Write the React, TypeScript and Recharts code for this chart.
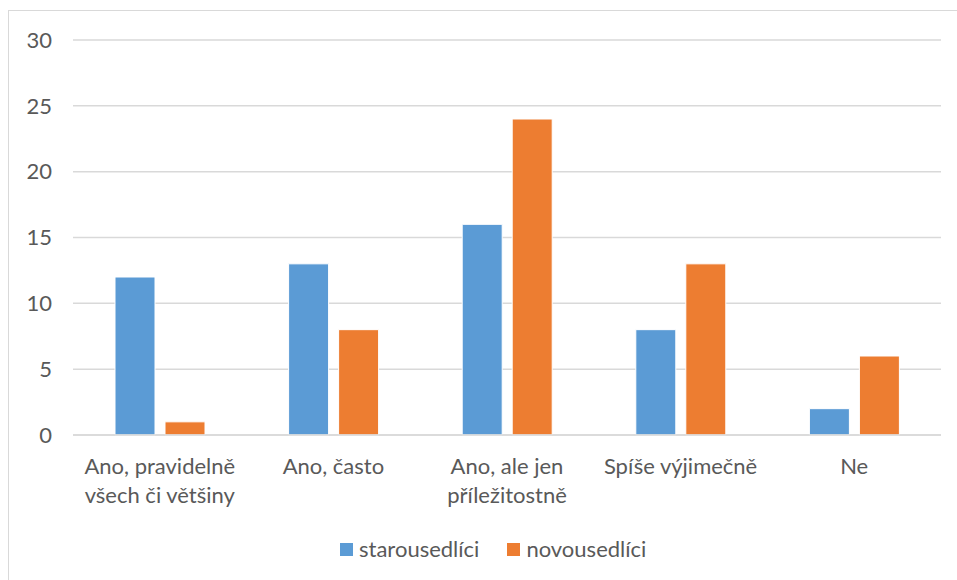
import { BarChart, Bar, XAxis, YAxis, CartesianGrid } from 'recharts';

const categories = [
  'Ano, pravidelně\nvšech či většiny',
  'Ano, často',
  'Ano, ale jen\npříležitostně',
  'Spíše výjimečně',
  'Ne',
];
const starousedlici = [12, 13, 16, 8, 2];
const novousedlici = [1, 8, 24, 13, 6];
const yTicks = [0, 5, 10, 15, 20, 25, 30];

const seriesNames = { stari: 'starousedlíci', novi: 'novousedlíci' };
const BLUE = '#5B9BD5';
const ORANGE = '#ED7D31';
const TEXT = '#595959';
const GRID = '#D9D9D9';
const FONT = 'Lato, "Open Sans", sans-serif';
const FS = 22;

const data = categories.map((name, i) => ({
  name,
  stari: starousedlici[i],
  novi: novousedlici[i],
}));

function CategoryTick(props: any) {
  const { x, y, payload } = props;
  const lines = String(payload.value).split('\n');
  return (
    <text x={x} y={y} textAnchor="middle" fill={TEXT} fontSize={FS} fontFamily={FONT}>
      {lines.map((line, i) => (
        <tspan key={i} x={x} dy={i === 0 ? 31 : 29}>
          {line}
        </tspan>
      ))}
    </text>
  );
}

function ChartLegend() {
  const items = [
    { label: seriesNames.stari, color: BLUE },
    { label: seriesNames.novi, color: ORANGE },
  ];
  return (
    <div
      style={{
        position: 'absolute',
        top: 537,
        left: 340,
        display: 'flex',
        alignItems: 'center',
        fontFamily: FONT,
        fontSize: FS,
        color: TEXT,
        lineHeight: '24px',
      }}
    >
      {items.map((it) => (
        <div key={it.label} style={{ display: 'flex', alignItems: 'center', marginRight: 28 }}>
          <span style={{ width: 13, height: 13, background: it.color, display: 'inline-block', marginRight: 6 }} />
          <span>{it.label}</span>
        </div>
      ))}
    </div>
  );
}

export default function App() {
  return (
    <div style={{ position: 'absolute', left: 0, top: 0, width: 957, height: 580, overflow: 'hidden', background: '#fff' }}>
      <div
        style={{
          position: 'absolute',
          left: 8,
          top: 10,
          width: 1000,
          height: 640,
          border: `1.5px solid ${GRID}`,
          boxSizing: 'border-box',
        }}
      />
      <div style={{ position: 'absolute', left: 0, top: 0 }}>
        <BarChart
          width={957}
          height={580}
          data={data}
          margin={{ top: 40, right: 16, bottom: 85, left: 0 }}
          barSize={40}
          barGap={10}
        >
          <CartesianGrid vertical={false} stroke={GRID} strokeWidth={1.5} />
          <XAxis
            dataKey="name"
            tick={<CategoryTick />}
            tickLine={false}
            axisLine={{ stroke: GRID, strokeWidth: 1.5 }}
            interval={0}
            height={60}
          />
          <YAxis
            width={73}
            domain={[0, 30]}
            ticks={yTicks}
            axisLine={false}
            tickLine={false}
            tickSize={6}
            tickMargin={15}
            tick={{ fill: TEXT, fontSize: FS, fontFamily: FONT }}
          />
          <Bar dataKey="stari" name={seriesNames.stari} fill={BLUE} stroke="#fff" strokeWidth={1} isAnimationActive={false} />
          <Bar dataKey="novi" name={seriesNames.novi} fill={ORANGE} stroke="#fff" strokeWidth={1} isAnimationActive={false} />
        </BarChart>
      </div>
      <ChartLegend />
    </div>
  );
}
